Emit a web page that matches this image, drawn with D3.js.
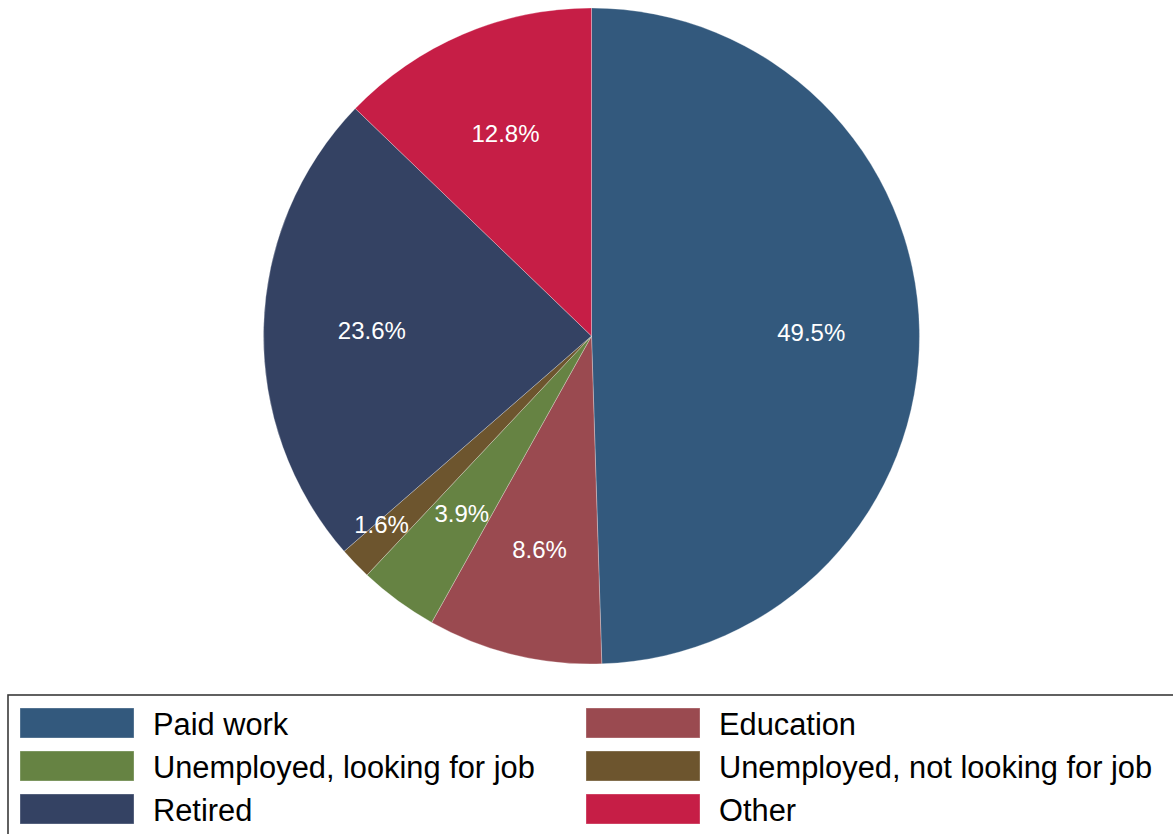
<!DOCTYPE html>
<html>
<head>
<meta charset="utf-8">
<script src="https://cdn.jsdelivr.net/npm/d3@7"></script>
<style>
  html, body { margin: 0; padding: 0; background: #fff; }
  svg { display: block; font-family: "Liberation Sans", Arial, sans-serif; }
</style>
</head>
<body>
<svg id="chart" width="1173" height="834"></svg>
<script>
// Main activity shares (percent), in drawing order clockwise from 12 o'clock
const categories = [
  "Paid work",
  "Education",
  "Unemployed, looking for job",
  "Unemployed, not looking for job",
  "Retired",
  "Other"
];
const shares = [49.5, 8.6, 3.9, 1.6, 23.6, 12.8];
const colors = ["#33597d", "#9a4a50", "#668343", "#6d552e", "#344263", "#c61e46"];
// Legend reading order (two columns, row by row)
const legendOrder = [
  "Paid work", "Education",
  "Unemployed, looking for job", "Unemployed, not looking for job",
  "Retired", "Other"
];

const svg = d3.select("#chart");
const cx = 591.5, cy = 336, R = 328;

const color = d3.scaleOrdinal().domain(categories).range(colors);
const data = categories.map((c, i) => ({ name: c, value: shares[i] }));

const pie = d3.pie().value(d => d.value).sort(null);
const arcs = pie(data);
const arc = d3.arc().innerRadius(0).outerRadius(R);

const g = svg.append("g").attr("transform", `translate(${cx},${cy})`);

g.selectAll("path.slice")
  .data(arcs)
  .join("path")
  .attr("class", "slice")
  .attr("d", arc)
  .attr("fill", d => color(d.data.name))
  .attr("stroke", "rgba(255,255,255,0.35)")
  .attr("stroke-width", 0.8);

// Labels sit on an inner ring; very thin slices get pushed outward
const labelArc = d3.arc().innerRadius(R * 0.67).outerRadius(R * 0.67);
const outerLabelArc = d3.arc().innerRadius(R * 0.86).outerRadius(R * 0.86);

g.selectAll("text.pct")
  .data(arcs)
  .join("text")
  .attr("class", "pct")
  .attr("transform", d => {
    const thin = (d.endAngle - d.startAngle) < 0.15;
    const a = thin ? outerLabelArc : labelArc;
    // thin slices: nudge the label toward the slice's trailing edge
    const mid = thin ? d.startAngle + 0.85 * (d.endAngle - d.startAngle)
                     : (d.startAngle + d.endAngle) / 2;
    const [x, y] = a.centroid({ startAngle: mid, endAngle: mid });
    return `translate(${x},${y})`;
  })
  .attr("text-anchor", "middle")
  .attr("dy", "0.36em")
  .attr("fill", "#fff")
  .attr("font-size", 24)
  .text(d => d.data.value.toFixed(1) + "%");

// Legend
const legend = svg.append("g");
legend.append("rect")
  .attr("x", 8).attr("y", 695)
  .attr("width", 1200).attr("height", 200)
  .attr("fill", "#fff")
  .attr("stroke", "#3a3a3a")
  .attr("stroke-width", 1.6);

const colX = d3.scaleOrdinal().domain([0, 1]).range([20, 586]);
const rowY = d3.scaleLinear().domain([0, 1]).range([708, 751]);

const items = legend.selectAll("g.item")
  .data(legendOrder)
  .join("g")
  .attr("class", "item")
  .attr("transform", (d, i) => `translate(${colX(i % 2)},${rowY(Math.floor(i / 2))})`);

items.append("rect")
  .attr("width", 114).attr("height", 30)
  .attr("fill", d => color(d))
  .attr("stroke", "rgba(255,255,255,0.4)")
  .attr("stroke-width", 0.8);

items.append("text")
  .attr("x", 133)
  .attr("y", 27)
  .attr("font-size", 30.8)
  .attr("fill", "#000")
  .text(d => d);
</script>
</body>
</html>
